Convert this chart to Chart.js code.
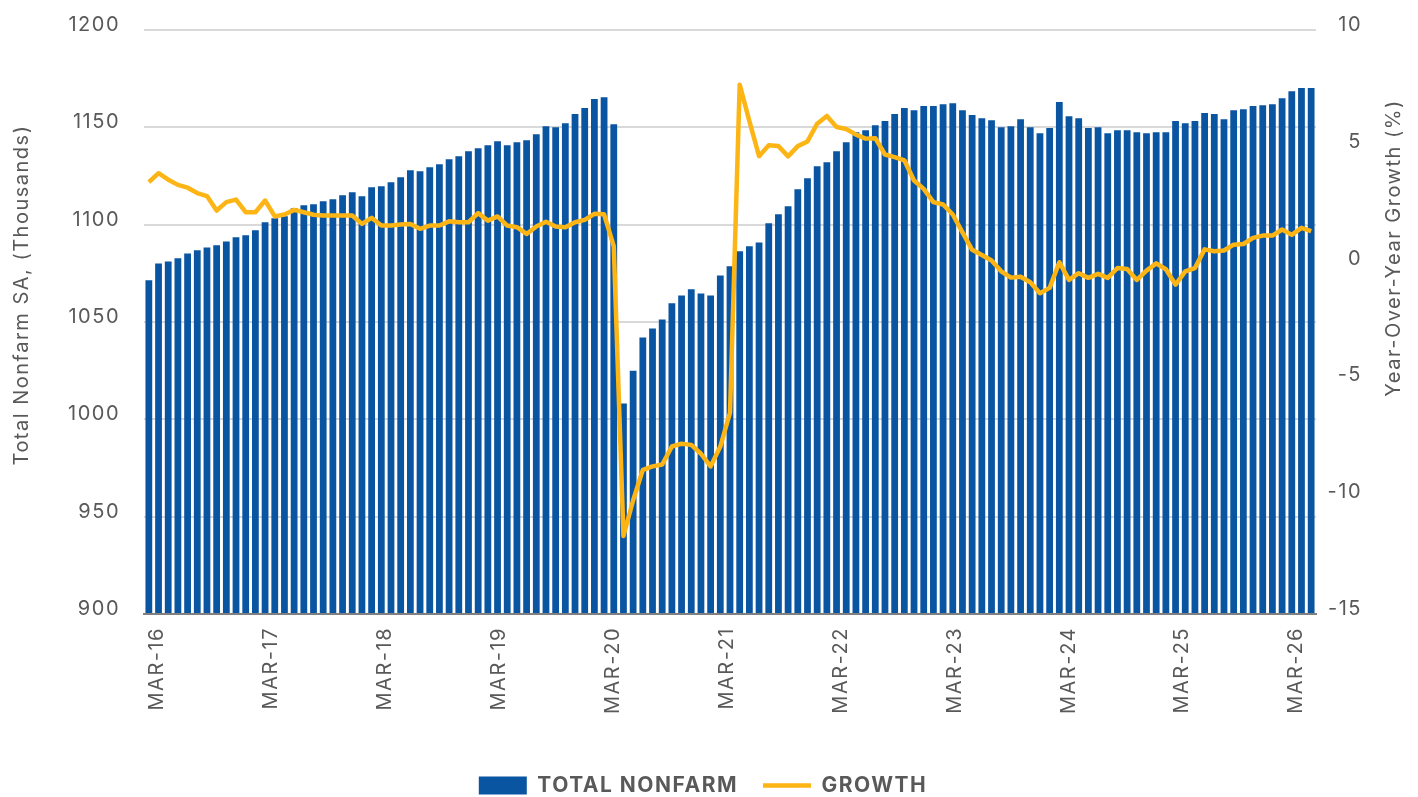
<!DOCTYPE html>
<html>
<head>
<meta charset="utf-8">
<title>Total Nonfarm</title>
<script src="https://cdn.jsdelivr.net/npm/chart.js@4.4.1/dist/chart.umd.min.js"></script>
<style>
  html, body { margin: 0; padding: 0; background: #fff; }
  #chart { display: block; }
</style>
</head>
<body>
<canvas id="chart" width="1418" height="797"></canvas>
<script>
/* ── DATA ─────────────────────────────────────────────── */
// monthly categories, MAR-16 .. MAR-26
const MONTH_NAMES = ["JAN","FEB","MAR","APR","MAY","JUN","JUL","AUG","SEP","OCT","NOV","DEC"];
const months = [];
for (let y = 2016, m = 2; y < 2026 || (y === 2026 && m <= 2); m++) {
  if (m > 11) { m = 0; y++; }
  months.push(`${MONTH_NAMES[m]}-${String(y).slice(2)}`);
}

const tickLabels = ["MAR-16","MAR-17","MAR-18","MAR-19","MAR-20","MAR-21",
                    "MAR-22","MAR-23","MAR-24","MAR-25","MAR-26"];

// Total nonfarm, SA, thousands
const totalNonfarm = [
  1071.4, 1080.1, 1081.1, 1082.7, 1085.2, 1086.8, 1088.3, 1089.4, 1091.4, 1093.5, 1094.5, 1097.1,
  1101.2, 1103.3, 1104.3, 1108.4, 1110.0, 1110.5, 1112.0, 1113.0, 1115.1, 1116.6, 1114.6, 1119.2,
  1119.7, 1121.8, 1124.4, 1128.0, 1127.4, 1129.5, 1131.0, 1133.6, 1135.2, 1137.7, 1139.3, 1140.8,
  1142.9, 1140.8, 1142.4, 1143.4, 1146.5, 1150.6, 1150.1, 1152.1, 1156.8, 1159.9, 1164.5, 1165.5,
  1151.6, 1008.1, 1025.0, 1042.1, 1046.7, 1051.3, 1059.6, 1063.6, 1066.8, 1064.7, 1063.6, 1073.9,
  1078.6, 1086.3, 1088.9, 1090.9, 1100.7, 1105.3, 1109.4, 1118.2, 1123.8, 1130.0, 1132.1, 1137.7,
  1142.4, 1147.5, 1148.5, 1151.1, 1153.2, 1156.8, 1159.9, 1158.8, 1160.9, 1160.9, 1161.9, 1162.4,
  1158.8, 1156.3, 1154.7, 1153.7, 1150.1, 1150.6, 1154.2, 1150.1, 1147.0, 1149.6, 1163.0, 1155.7,
  1154.7, 1149.6, 1150.1, 1147.0, 1148.5, 1148.5, 1147.5, 1147.0, 1147.5, 1147.5, 1153.2, 1152.1,
  1153.2, 1157.3, 1156.8, 1154.2, 1158.8, 1159.3, 1160.9, 1161.4, 1161.9, 1165.0, 1168.6, 1170.2,
  1170.2
];

// Year-over-year growth, %
const growth = [
   3.49,  3.87,  3.59,  3.37,  3.25,  3.02,  2.89,  2.27,  2.63,  2.74,  2.20,  2.20,
   2.70,  2.02,  2.10,  2.30,  2.20,  2.09,  2.06,  2.06,  2.06,  2.06,  1.70,  1.96,
   1.63,  1.63,  1.67,  1.70,  1.49,  1.63,  1.63,  1.81,  1.77,  1.77,  2.16,  1.84,
   2.02,  1.63,  1.56,  1.27,  1.59,  1.79,  1.59,  1.56,  1.77,  1.87,  2.13,  2.11,
   0.75,-11.66,-10.13, -8.83, -8.68, -8.60, -7.83, -7.71, -7.76, -8.14, -8.68, -7.83,
  -6.38,  7.66,  6.10,  4.60,  5.07,  5.03,  4.59,  5.03,  5.23,  5.99,  6.32,  5.85,
   5.76,  5.52,  5.35,  5.37,  4.67,  4.56,  4.42,  3.56,  3.20,  2.63,  2.53,  2.10,
   1.34,  0.59,  0.37,  0.13, -0.33, -0.60, -0.56, -0.80, -1.27, -1.04,  0.06, -0.70,
  -0.41, -0.61, -0.44, -0.61, -0.19, -0.23, -0.70, -0.30,  0.01, -0.24, -0.90, -0.33,
  -0.19,  0.61,  0.53,  0.56,  0.81,  0.84,  1.10,  1.20,  1.20,  1.46,  1.23,  1.53,
   1.39
];

/* ── STYLE ────────────────────────────────────────────── */
const BLUE   = "#0a55a2";
const YELLOW = "#fdb515";
const TEXT   = "#595959";
const GRID   = "#d9d9d9";
const FONT   = "Inter, 'Open Sans', sans-serif";
const NONE   = "rgba(0,0,0,0)";

// where the year labels sit along the month axis (category units)
const LABEL_START = 0.87;
const LABEL_STEP  = 11.76;

/* ── PLUGINS ──────────────────────────────────────────── */
// the original face is wider than Inter, open it up a little
const wideText = {
  id: "wideText",
  beforeLayout(chart) { chart.ctx.letterSpacing = "1.5px"; },
  beforeDraw(chart)   { chart.ctx.letterSpacing = "1.5px"; }
};

// both axis titles read bottom-to-top
const axisTitles = {
  id: "axisTitles",
  afterDraw(chart) {
    const { ctx, chartArea: a } = chart;
    ctx.save();
    ctx.fillStyle = TEXT;
    ctx.font = `20px ${FONT}`;
    ctx.textAlign = "center";
    ctx.textBaseline = "middle";

    ctx.save();
    ctx.translate(a.left - 122, a.top + 265);
    ctx.rotate(-Math.PI / 2);
    ctx.fillText("Total Nonfarm SA, (Thousands)", 0, 0);
    ctx.restore();

    ctx.save();
    ctx.translate(a.right + 78, a.top + 218);
    ctx.rotate(-Math.PI / 2);
    ctx.fillText("Year-Over-Year Growth (%)", 0, 0);
    ctx.restore();

    ctx.restore();
  }
};

/* ── CHART ────────────────────────────────────────────── */
const tickFont = { family: FONT, size: 20 };

new Chart(document.getElementById("chart"), {
  data: {
    labels: months,
    datasets: [
      {
        type: "bar",
        label: "TOTAL NONFARM",
        data: totalNonfarm,
        yAxisID: "y",
        backgroundColor: BLUE,
        barPercentage: 0.7,
        categoryPercentage: 1,
        order: 1
      },
      {
        type: "line",
        label: "GROWTH",
        data: growth,
        yAxisID: "y1",
        borderColor: YELLOW,
        backgroundColor: YELLOW,
        borderWidth: 4.5,
        borderJoinStyle: "round",
        pointRadius: 0,
        tension: 0,
        order: 0
      }
    ]
  },
  options: {
    responsive: false,
    animation: false,
    // side padding keeps the legend centred where the original has it
    layout: { padding: { top: 30, bottom: -9, left: 44, right: 56 } },
    plugins: {
      tooltip: { enabled: false },
      legend: {
        position: "bottom",
        labels: {
          usePointStyle: true,
          pointStyleWidth: 48,
          boxHeight: 18,
          padding: 25,
          color: TEXT,
          font: { family: FONT, size: 21, weight: "bold" },
          sort: (a, b) => a.datasetIndex - b.datasetIndex,
          generateLabels(chart) {
            const items = Chart.defaults.plugins.legend.labels.generateLabels(chart);
            items.forEach(it => {
              const ds = chart.data.datasets[it.datasetIndex];
              it.pointStyle = ds.type === "line" ? "line" : "rect";
              it.lineWidth  = ds.type === "line" ? 4.5 : 0;
            });
            return items;
          }
        }
      }
    },
    scales: {
      x: {
        type: "category",
        offset: true,
        grid: { display: false, drawTicks: false },
        border: { display: true, color: "#808080", width: 2, z: 1 },
        ticks: { display: false },
        afterFit: s => { s.height = 0; }
      },
      xLabels: {
        type: "linear",
        position: "bottom",
        min: -0.5,
        max: months.length - 0.5,
        grid: { display: false, drawTicks: false },
        border: { display: false },
        afterBuildTicks: s => {
          s.ticks = tickLabels.map((_, k) => ({ value: LABEL_START + k * LABEL_STEP }));
        },
        ticks: {
          autoSkip: false,
          minRotation: 90,
          maxRotation: 90,
          padding: 13,
          color: TEXT,
          font: tickFont,
          callback: (v, i) => tickLabels[i]
        },
        afterFit: s => { s.height = 136; }
      },
      y: {
        position: "left",
        min: 900,
        max: 1200,
        ticks: { stepSize: 50, padding: 6, labelOffset: -5, color: TEXT, font: tickFont, callback: v => v },
        grid: { color: GRID, lineWidth: 2, drawTicks: true, tickLength: 18, tickColor: NONE },
        border: { display: false },
        afterFit: s => { s.width = 100; }
      },
      y1: {
        position: "right",
        min: -15,
        max: 10,
        ticks: { stepSize: 5, padding: 4, labelOffset: -5, crossAlign: "far", color: TEXT, font: tickFont },
        grid: { display: false, drawTicks: false },
        border: { display: false },
        afterFit: s => { s.width = 46; }
      }
    }
  },
  plugins: [wideText, axisTitles]
});
</script>
</body>
</html>
